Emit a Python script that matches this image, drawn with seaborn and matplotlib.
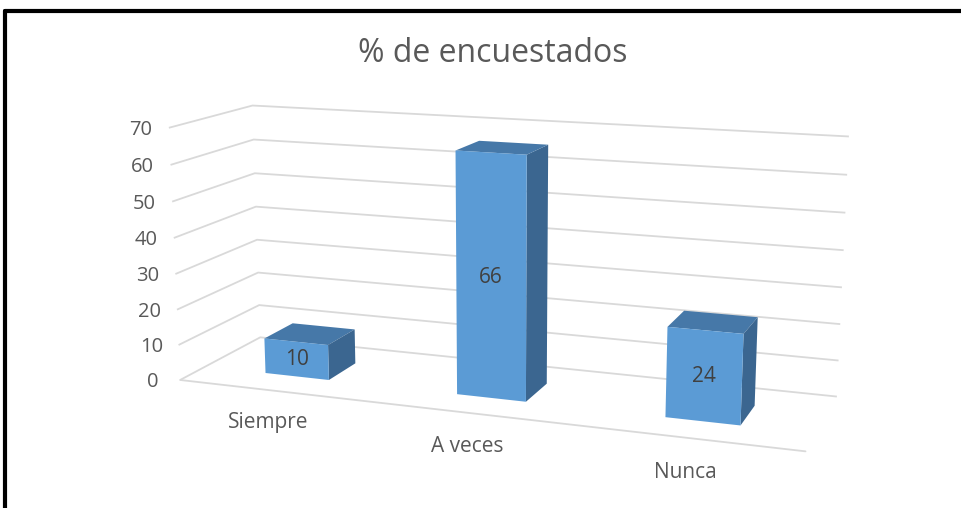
import numpy as np
import matplotlib
matplotlib.use("Agg")
import matplotlib.pyplot as plt
import seaborn as sns
from matplotlib.lines import Line2D

# Data
categories = ["Siempre", "A veces", "Nunca"]
values = [10, 66, 24]
z_ticks = [0, 10, 20, 30, 40, 50, 60, 70]
title = "% de encuestados"

sns.set_style("white")
plt.rcParams["font.family"] = ["Open Sans", "DejaVu Sans"]

txt = "#595959"
grid_c = "#D9D9D9"
front, top, side = "#5B9BD5", "#4678A8", "#3B6690"
hidden = (1, 1, 1, 0)
# bar3d face order: -z, +z, -y, +y, -x, +x  (one set per bar)
face_colors = [hidden, top, front, hidden, hidden, side] * len(categories)

fig = plt.figure(figsize=(9.62, 5.08), dpi=100)
ax = fig.add_axes([0.107, 0.042, 0.82, 0.86], projection="3d")
ax.set_proj_type("persp", focal_length=0.72)
ax.view_init(elev=13, azim=-70)
ax.set_box_aspect((2.66, 0.72, 1.08), zoom=1.6)

xs = np.arange(len(categories))
bw, bd, y0 = 0.34, 0.37, 0.3
bars = ax.bar3d(xs - bw / 2, np.full(len(xs), y0), np.zeros(len(xs)),
                bw, bd, values, color=face_colors, shade=False,
                linewidth=0, edgecolor=hidden)
# the 3d axes box is square, keep the right-hand bar from being clipped
bars.set_clip_on(False)

for x, v in zip(xs, values):
    t = ax.text(x, y0, v / 2, str(v), ha="center", va="center",
                fontsize=15, color="#404040", zorder=20)
    t.set_clip_on(False)

ax.set_xlim(-0.5, len(categories) - 0.5)
ax.set_ylim(0, 1)
ax.set_zlim(0, 70)
ax.set_xticks(xs, categories)
ax.set_yticks([])
ax.set_zticks(z_ticks)
ax.zaxis.set_ticks_position("lower")
ax.tick_params(axis="x", labelsize=15, labelcolor=txt, pad=4)
ax.tick_params(axis="z", labelsize=14.5, labelcolor=txt, pad=-1)
# lift the value labels a little, to the level of their gridlines
for tk in ax.zaxis.get_major_ticks():
    tk.label1.set_va("center_baseline")

for axis in (ax.xaxis, ax.yaxis, ax.zaxis):
    axis.set_pane_color((1, 1, 1, 0))
    axis._axinfo["tick"]["inward_factor"] = 0
    axis._axinfo["tick"]["outward_factor"] = 0
    axis._axinfo["grid"]["color"] = (1, 1, 1, 0)
ax.zaxis._axinfo["grid"]["color"] = grid_c
ax.zaxis._axinfo["grid"]["linewidth"] = 1.3
ax.xaxis.line.set_color(grid_c)
ax.xaxis.line.set_linewidth(1.3)
ax.yaxis.line.set_color((1, 1, 1, 0))
ax.zaxis.line.set_color((1, 1, 1, 0))

fig.text(0.512, 1 - 54 / 508, title, ha="center", va="center",
         fontsize=23, color=txt)

# black frame of the original screenshot (top and left edges)
fig.add_artist(Line2D([5 / 962, 5 / 962], [0, 1 - 11 / 508], color="black", lw=3))
fig.add_artist(Line2D([5 / 962, 1], [1 - 11 / 508, 1 - 11 / 508], color="black", lw=3))

fig.savefig("out.png", dpi=100)
